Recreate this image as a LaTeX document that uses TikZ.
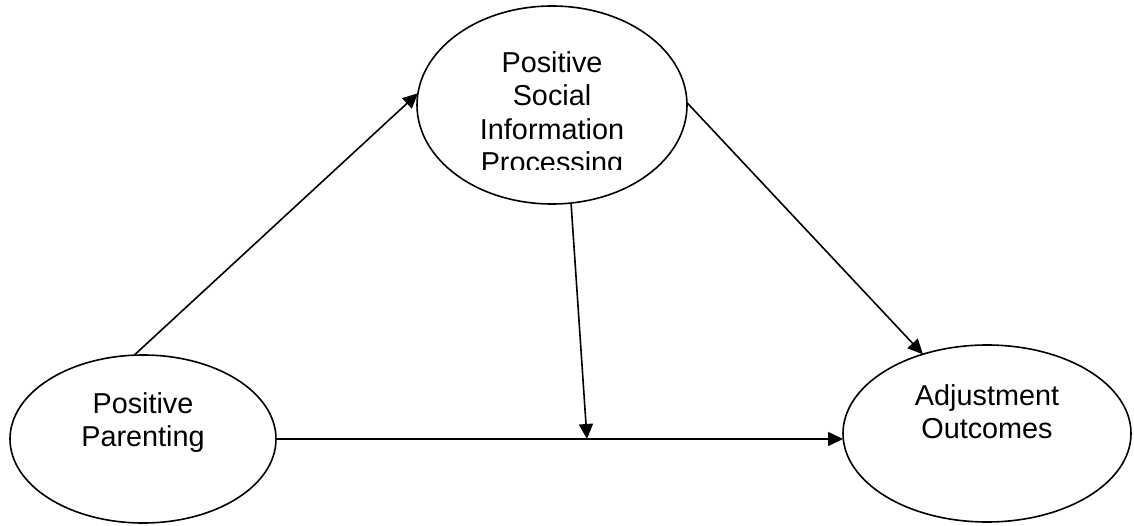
\documentclass[tikz,border=0pt]{standalone}
\usepackage{fontspec}
\setmainfont{Liberation Sans}
\usetikzlibrary{shapes.geometric,arrows.meta}
\begin{document}
\begin{tikzpicture}[x=1pt,y=-1pt,
  var/.style={draw,ellipse,line width=1.6pt,inner sep=0pt,outer sep=0pt},
  lbl/.style={font=\fontsize{28.8}{33.5}\selectfont,align=center,inner sep=0pt,anchor=north},
  link/.style={line width=1.6pt,-{Triangle[length=15pt,width=14pt]}}]
\useasboundingbox (0,0) rectangle (1134,526);

% variables
\node[var,minimum width=266pt,minimum height=168pt] (pp)   at (143,439)   {};
\node[var,minimum width=270pt,minimum height=198pt] (psip) at (552,105)   {};
\node[var,minimum width=288pt,minimum height=177pt] (ao)   at (987,433.5) {};

% labels
\node[lbl] (ppText) at (143,392) {Positive\\Parenting};
\node[lbl] (aoText) at (987,384) {Adjustment\\Outcomes};
\begin{scope}
  \clip (0,0) rectangle (1134,170);
  \node[lbl] (psipText) at (552,51) {Positive\\Social\\Information\\Processing};
\end{scope}

% paths
\coordinate (mod) at (587,439);
\draw[link] (pp.96.7) -- (psip.175);
\draw[link] (psip.1.3) -- (ao.129.8);
\draw[link] (pp.east) -- (pp.east -| ao.west);
\draw[link] (psip.-79.6) -- (mod);
\end{tikzpicture}
\end{document}
